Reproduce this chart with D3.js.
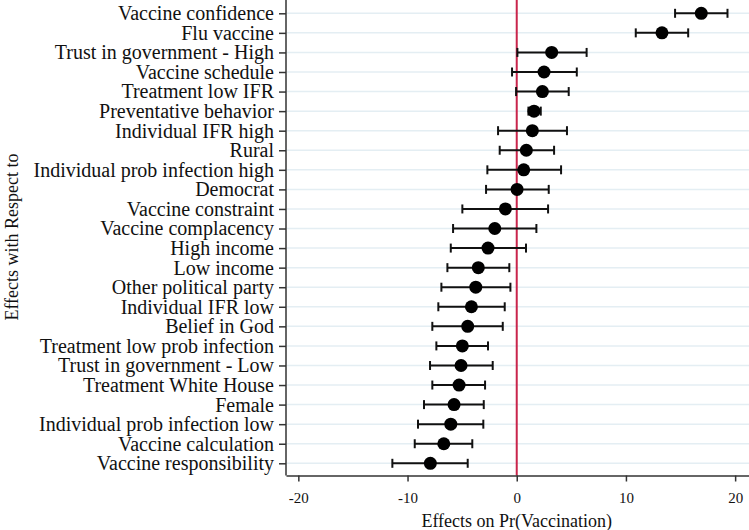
<!DOCTYPE html>
<html>
<head>
<meta charset="utf-8">
<script src="https://cdn.jsdelivr.net/npm/d3@7"></script>
<style>
  body { margin: 0; background: #fff; }
  svg text { font-family: "Liberation Serif", "Times New Roman", serif; fill: #111; }
</style>
</head>
<body>
<svg width="749" height="530"></svg>
<script>
// effects on Pr(vaccination), top to bottom
let labels = [
    "Vaccine confidence", "Flu vaccine", "Trust in government - High", "Vaccine schedule",
    "Treatment low IFR", "Preventative behavior", "Individual IFR high", "Rural",
    "Individual prob infection high", "Democrat", "Vaccine constraint", "Vaccine complacency",
    "High income", "Low income", "Other political party", "Individual IFR low",
    "Belief in God", "Treatment low prob infection", "Trust in government - Low",
    "Treatment White House", "Female", "Individual prob infection low",
    "Vaccine calculation", "Vaccine responsibility"
];
let estimates = [16.9, 13.3, 3.2, 2.5, 2.35, 1.58, 1.43, 0.88, 0.64, 0.03, -1.04, -2.01,
    -2.63, -3.52, -3.75, -4.15, -4.49, -4.98, -5.1, -5.28, -5.74, -6.04, -6.68, -7.91];
let lower = [14.5, 10.9, 0.06, -0.43, -0.06, 1.07, -1.71, -1.56, -2.69, -2.81, -4.98, -5.83,
    -6.04, -6.35, -6.9, -7.18, -7.73, -7.36, -7.94, -7.73, -8.49, -9.04, -9.34, -11.39];
let upper = [19.3, 15.7, 6.4, 5.5, 4.76, 2.2, 4.6, 3.42, 4.06, 2.93, 2.87, 1.8,
    0.85, -0.68, -0.58, -1.1, -1.28, -2.63, -2.2, -2.9, -3.02, -3.06, -4.07, -4.49];
let xTicks = [-20, -10, 0, 10, 20];

let svg = d3.select("svg");
let axisY = 475.5;

let x = d3.scaleLinear().domain([-21.13, 21.27]).range([286, 749]);
let y = d3.scalePoint().domain(labels).range([13.3, 463.3]);

let rows = labels.map(function (d, i) {
    return { label: d, est: estimates[i], lo: lower[i], hi: upper[i] };
});

// grid lines
svg.append("g")
    .selectAll("line")
    .data(labels)
    .enter()
    .append("line")
    .attr("x1", 287).attr("x2", 749)
    .attr("y1", d => y(d)).attr("y2", d => y(d))
    .attr("stroke", "#e4eef3")
    .attr("stroke-width", 1.5);

// zero line
svg.append("line")
    .attr("x1", x(0)).attr("x2", x(0))
    .attr("y1", 0).attr("y2", axisY)
    .attr("stroke", "#c9254c")
    .attr("stroke-width", 2);

// x axis
let xAxis = svg.append("g")
    .attr("transform", "translate(0," + axisY + ")")
    .call(d3.axisBottom(x).tickValues(xTicks).tickSize(6).tickSizeOuter(0).tickFormat(d => String(d)));
xAxis.select(".domain").attr("stroke", "#333").attr("stroke-width", 1.5);
xAxis.selectAll(".tick line").attr("stroke", "#333").attr("stroke-width", 1.5);
xAxis.selectAll(".tick text").attr("font-size", 15).attr("dy", "1.2em").attr("fill", "#111");

// y axis
let yAxis = svg.append("g")
    .attr("transform", "translate(286,0)")
    .call(d3.axisLeft(y).tickSize(7).tickPadding(5).tickSizeOuter(0));
yAxis.select(".domain").attr("d", "M0,0V" + axisY).attr("stroke", "#333").attr("stroke-width", 1.5);
yAxis.selectAll(".tick line").attr("stroke", "#333").attr("stroke-width", 1.5);
yAxis.selectAll(".tick text").attr("font-size", 20).attr("fill", "#111");

// error bars
let bars = svg.append("g").selectAll("g")
    .data(rows)
    .enter()
    .append("g")
    .attr("stroke", "#111")
    .attr("stroke-width", 2);
bars.append("line")
    .attr("x1", d => x(d.lo)).attr("x2", d => x(d.hi))
    .attr("y1", d => y(d.label)).attr("y2", d => y(d.label));
bars.append("line")
    .attr("x1", d => x(d.lo)).attr("x2", d => x(d.lo))
    .attr("y1", d => y(d.label) - 4.5).attr("y2", d => y(d.label) + 4.5);
bars.append("line")
    .attr("x1", d => x(d.hi)).attr("x2", d => x(d.hi))
    .attr("y1", d => y(d.label) - 4.5).attr("y2", d => y(d.label) + 4.5);

// point estimates
svg.append("g").selectAll("circle")
    .data(rows)
    .enter()
    .append("circle")
    .attr("cx", d => x(d.est))
    .attr("cy", d => y(d.label))
    .attr("r", 6.5)
    .attr("fill", "#000");

// titles
svg.append("text")
    .attr("x", x(0)).attr("y", 527)
    .attr("text-anchor", "middle")
    .attr("font-size", 18)
    .text("Effects on Pr(Vaccination)");

svg.append("text")
    .attr("transform", "translate(18,237) rotate(-90)")
    .attr("text-anchor", "middle")
    .attr("font-size", 18)
    .text("Effects with Respect to");
</script>
</body>
</html>
